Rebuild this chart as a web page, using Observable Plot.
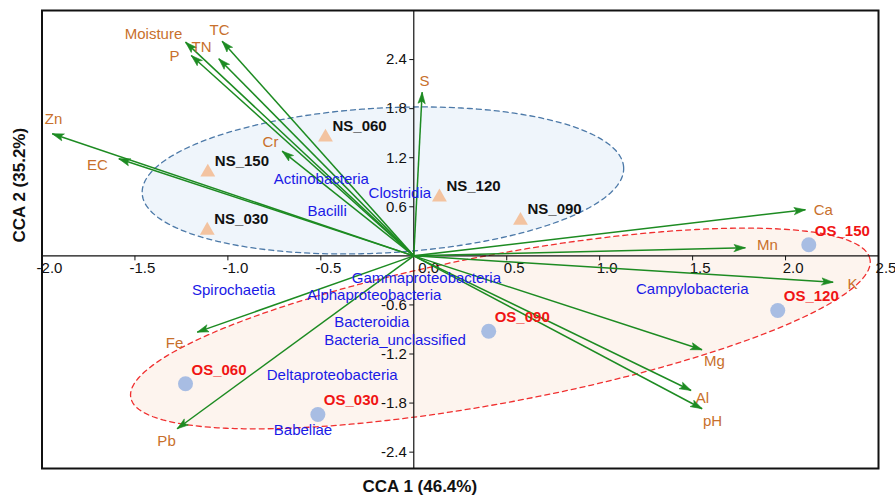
<!DOCTYPE html>
<html>
<head>
<meta charset="utf-8">
<script src="https://cdn.jsdelivr.net/npm/d3@7"></script>
<script src="https://cdn.jsdelivr.net/npm/@observablehq/plot@0.6"></script>
<style>
  html, body { margin: 0; padding: 0; background: #fff; }
  #chart svg { display: block; }
</style>
</head>
<body>
<div id="chart"></div>
<script>
// ---------- data ----------
const envNames  = ["Moisture","TC","TN","P","Zn","EC","Cr","S","Ca","Mn","K","Mg","Al","pH","Fe","Pb"];
const envX      = [-1.228,-1.031,-1.049,-1.197,-1.945,-1.587,-0.708,0.045,2.107,1.784,2.256,1.551,1.492,1.551,-1.165,-1.273];
const envY      = [2.613,2.625,2.410,2.450,1.493,1.187,1.280,2.001,0.564,0.099,-0.322,-1.148,-1.646,-1.869,-0.933,-2.114];
const envLabelX = [-1.400,-1.045,-1.142,-1.287,-1.938,-1.702,-0.771,0.058,2.203,1.903,2.360,1.617,1.553,1.607,-1.287,-1.330];
const envLabelY = [2.707,2.756,2.549,2.439,1.668,1.105,1.386,2.132,0.564,0.127,-0.350,-1.290,-1.743,-2.024,-1.071,-2.269];

const nsNames = ["NS_030","NS_060","NS_090","NS_120","NS_150"];
const nsX     = [-1.111,-0.475,0.574,0.138,-1.108];
const nsY     = [0.311,1.451,0.433,0.718,1.023];

const osNames = ["OS_030","OS_060","OS_090","OS_120","OS_150"];
const osX     = [-0.516,-1.228,0.403,1.958,2.125];
const osY     = [-1.939,-1.564,-0.921,-0.668,0.136];

const taxaNames = ["Actinobacteria","Clostridia","Bacilli","Spirochaetia","Gammaproteobacteria","Alphaproteobacteria","Bacteroidia","Bacteria_unclassified","Deltaproteobacteria","Babeliae","Campylobacteria"];
const taxaX     = [-0.497,-0.075,-0.466,-0.969,0.068,-0.213,-0.226,-0.101,-0.439,-0.596,1.498];
const taxaY     = [0.943,0.767,0.547,-0.423,-0.276,-0.484,-0.811,-1.026,-1.462,-2.126,-0.402];

// group ellipses: centre, semi-axes (x units, y units), tilt in degrees
const ellipseGroup = ["NS","OS"];
const ellipseCX    = [-0.166, 0.466];
const ellipseCY    = [0.922, -0.888];
const ellipseRX    = [1.297, 2.023];
const ellipseRY    = [0.886, 0.905];
const ellipseTilt  = [3.1, 10.6];

const xTicks = [-2.0,-1.5,-1.0,-0.5,0.5,1.0,1.5,2.0,2.5];
const yTicks = [2.4,1.8,1.2,0.6,-0.6,-1.2,-1.8,-2.4];
const xTitle = "CCA 1 (46.4%)";
const yTitle = "CCA 2 (35.2%)";

// ---------- layout ----------
const W = 895, H = 500, mL = 41.5, mR = 17, mT = 10, mB = 32;
const xDom = [-2.0, 2.5], yDom = [-2.6, 3.0];
const kx = (W - mL - mR) / (xDom[1] - xDom[0]);
const ky = (H - mT - mB) / (yDom[1] - yDom[0]);
const FONT = "Liberation Sans, Arial, Helvetica, sans-serif";

const env  = envNames.map((n, i) => ({name: n, x: envX[i], y: envY[i], lx: envLabelX[i], ly: envLabelY[i],
  angle: Math.atan2(envX[i] * kx, envY[i] * ky) * 180 / Math.PI}));
const ns   = nsNames.map((n, i) => ({name: n, x: nsX[i], y: nsY[i]}));
const os   = osNames.map((n, i) => ({name: n, x: osX[i], y: osY[i]}));
const taxa = taxaNames.map((n, i) => ({name: n, x: taxaX[i], y: taxaY[i]}));

function ellipsePoints(i) {
  const th = ellipseTilt[i] * Math.PI / 180, pts = [];
  for (let k = 0; k <= 180; k++) {
    const t = 2 * Math.PI * k / 180;
    const U = ellipseRX[i] * kx * Math.cos(t), V = ellipseRY[i] * ky * Math.sin(t);
    pts.push({x: ellipseCX[i] + (U * Math.cos(th) - V * Math.sin(th)) / kx,
              y: ellipseCY[i] + (U * Math.sin(th) + V * Math.cos(th)) / ky});
  }
  return pts;
}

const tickDown = {draw(ctx) { ctx.moveTo(0, 0); ctx.lineTo(0, 4.5); }};
const tickLeft = {draw(ctx) { ctx.moveTo(0, 0); ctx.lineTo(-4.5, 0); }};
// filled, slightly notched arrow head
const headShape = {draw(ctx, l, r) { ctx.moveTo(0, 0); ctx.lineTo(-r, 0.25 * l); ctx.lineTo(0, -l); ctx.lineTo(r, 0.25 * l); ctx.closePath(); }};

const GREEN = "#1d8b22", ORANGE = "#c8702c", BLUE = "#1a1ae6", RED = "#f01414";

const chart = Plot.plot({
  width: W, height: H,
  marginLeft: mL, marginRight: mR, marginTop: mT, marginBottom: mB,
  x: {domain: xDom, axis: null},
  y: {domain: yDom, axis: null},
  style: {fontFamily: FONT, background: "#fff"},
  marks: [
    Plot.line(ellipsePoints(0), {x: "x", y: "y", fill: "#eff5fb", stroke: "#4c79a8", strokeWidth: 1.3, strokeDasharray: "5,4"}),
    Plot.line(ellipsePoints(1), {x: "x", y: "y", fill: "#fdf4ee", stroke: "#f03030", strokeWidth: 1.3, strokeDasharray: "5,4"}),
    Plot.ruleX([0], {stroke: "#111", strokeWidth: 1.2}),
    Plot.ruleY([0], {stroke: "#111", strokeWidth: 1.2}),
    Plot.dot(xTicks, {x: d => d, y: 0, symbol: tickDown, r: 3, stroke: "#111", fill: "none", strokeWidth: 1}),
    Plot.dot(yTicks, {x: 0, y: d => d, symbol: tickLeft, r: 3, stroke: "#111", fill: "none", strokeWidth: 1}),
    Plot.text(xTicks, {x: d => d, y: 0, text: d => d.toFixed(1), dy: 12, dx: 7.5, fontSize: 15, fill: "#111"}),
    Plot.text([0], {x: d => d, y: 0, text: d => d.toFixed(1), dy: 12, dx: 15, fontSize: 15, fill: "#111"}),
    Plot.text(yTicks, {x: 0, y: d => d, text: d => d.toFixed(1), dx: -7, textAnchor: "end", fontSize: 15, fill: "#111"}),
    Plot.link(env, {x1: 0, y1: 0, x2: "x", y2: "y", stroke: GREEN, strokeWidth: 1.5}),
    Plot.vector(env, {x: "x", y: "y", rotate: "angle", length: 9, r: 3.6, anchor: "end", shape: headShape, fill: GREEN, stroke: GREEN, strokeWidth: 0.6}),
    Plot.dot(ns, {x: "x", y: "y", symbol: "triangle", r: 5.5, fill: "#f3c3a0"}),
    Plot.dot(os, {x: "x", y: "y", r: 7.5, fill: "#a8bde3"}),
    Plot.text(env, {x: "lx", y: "ly", text: "name", fill: ORANGE, fontSize: 15}),
    Plot.text(taxa, {x: "x", y: "y", text: "name", fill: BLUE, fontSize: 15}),
    Plot.text(ns, {x: "x", y: "y", text: "name", textAnchor: "start", dx: 7, dy: -11, fontSize: 15, fontWeight: "bold", fill: "#111"}),
    Plot.text(os, {x: "x", y: "y", text: "name", textAnchor: "start", dx: 6, dy: -14, fontSize: 15, fontWeight: "bold", fill: RED}),
    Plot.frame({stroke: "#111", strokeWidth: 2}),
    Plot.text([xTitle], {x: 0, frameAnchor: "bottom", text: d => d, dy: 23, dx: 6, fontSize: 17, fontWeight: "bold", fill: "#111"}),
    Plot.text([yTitle], {frameAnchor: "left", text: d => d, dx: -22.5, dy: 3, rotate: -90, fontSize: 17, fontWeight: "bold", fill: "#111"})
  ]
});
document.getElementById("chart").appendChild(chart);
</script>
</body>
</html>
